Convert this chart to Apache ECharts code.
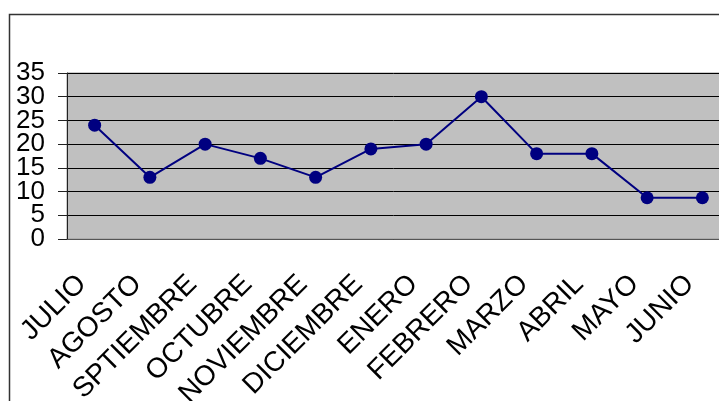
<!DOCTYPE html>
<html>
<head>
<meta charset="utf-8">
<script src="https://cdn.jsdelivr.net/npm/echarts@6/dist/echarts.min.js"></script>
<style>
  html, body { margin: 0; padding: 0; background: #fff; }
  #chart { width: 719px; height: 401px; }
</style>
</head>
<body>
<div id="chart"></div>
<script>
// months (school year order) and values
const months = ['JULIO', 'AGOSTO', 'SPTIEMBRE', 'OCTUBRE', 'NOVIEMBRE', 'DICIEMBRE',
  'ENERO', 'FEBRERO', 'MARZO', 'ABRIL', 'MAYO', 'JUNIO'];
const values = [24, 13, 20, 17, 13, 19, 20, 30, 18, 18, 8.7, 8.7];
const yTicks = [0, 5, 10, 15, 20, 25, 30, 35];

const font = '"Liberation Sans", Arial, sans-serif';

// the y labels are taller than the gap between ticks, so they are split
// over two axes (odd / even ticks) to keep echarts from hiding any of them
function yAxisFor(part) {
  return {
    type: 'value',
    position: 'left',
    offset: 0,
    min: yTicks[0], max: yTicks[yTicks.length - 1], interval: 5,
    axisLine: { show: part === 0, lineStyle: { color: '#222', width: 1 } },
    axisTick: { show: part === 0, length: 9, lineStyle: { color: '#222' } },
    axisLabel: {
      margin: 22, color: '#000', fontSize: 26, fontFamily: font,
      showMinLabel: true, showMaxLabel: true,
      formatter: v => (yTicks.indexOf(v) % 2 === part ? String(v) : '')
    },
    splitLine: { show: part === 0, lineStyle: { color: '#000', width: 1 } }
  };
}

const chart = echarts.init(document.getElementById('chart'));
chart.setOption({
  animation: false,
  backgroundColor: '#fff',
  graphic: [{
    type: 'rect',
    shape: { x: 9.5, y: 14.5, width: 760, height: 420 },
    style: { fill: 'none', stroke: '#333', lineWidth: 1.5 },
    z: 10
  }],
  grid: {
    left: 67, top: 73, bottom: 162, right: -11,
    outerBoundsMode: 'none',
    show: true, backgroundColor: '#c0c0c0', borderColor: '#999', borderWidth: 1
  },
  xAxis: {
    type: 'category',
    data: months,
    boundaryGap: true,
    axisLine: { lineStyle: { color: '#555', width: 1 } },
    axisTick: { length: 8, lineStyle: { color: '#555' } },
    axisLabel: {
      interval: 0, rotate: 45, margin: 28,
      padding: [0, 18, 0, 0],
      color: '#000', fontSize: 28, fontFamily: font
    }
  },
  yAxis: [yAxisFor(0), yAxisFor(1)],
  series: [{
    type: 'line',
    data: values,
    symbol: 'circle',
    symbolSize: 13,
    lineStyle: { color: '#000080', width: 2 },
    itemStyle: { color: '#000080' }
  }]
});
</script>
</body>
</html>
